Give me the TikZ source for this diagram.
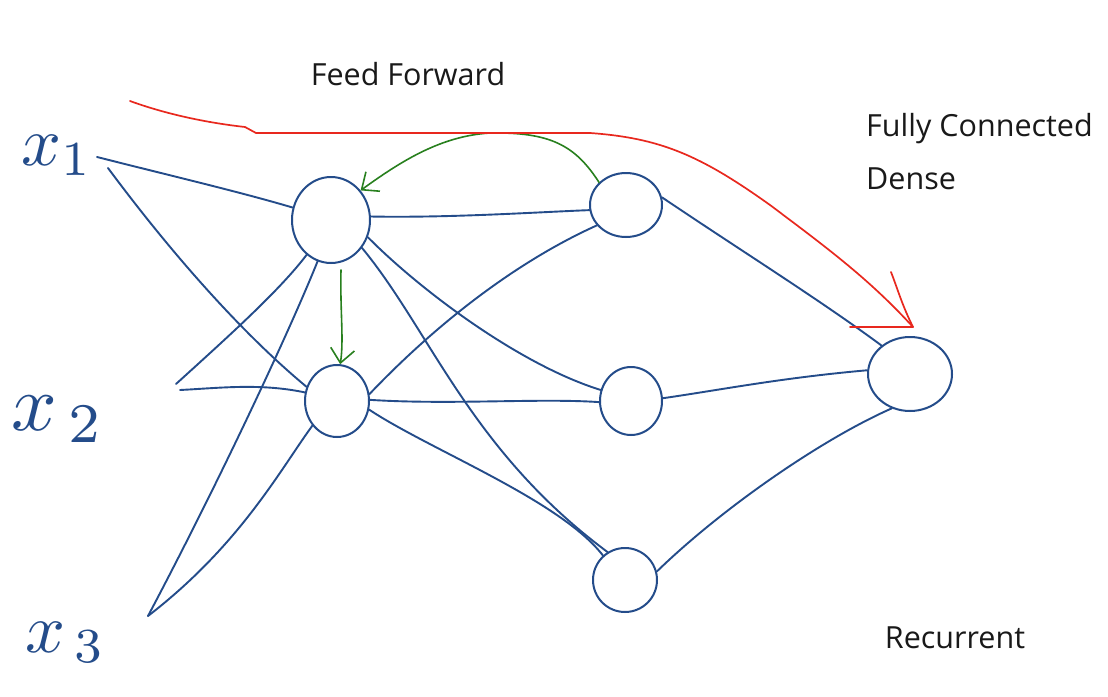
\documentclass[tikz,border=0pt]{standalone}
\usepackage{fontspec}
\setmainfont{Open Sans}
\usetikzlibrary{shapes.geometric,arrows.meta}
\definecolor{nblue}{RGB}{36,76,138}
\definecolor{nred}{RGB}{232,40,30}
\definecolor{ngreen}{RGB}{40,128,30}
\definecolor{ntext}{RGB}{25,25,25}
\begin{document}
\begin{tikzpicture}[x=1pt,y=-1pt,
  neuron/.style={draw=nblue, line width=2pt, ellipse, inner sep=0pt},
  link/.style={draw=nblue, line width=1.9pt, line cap=round},
  redline/.style={draw=nred, line width=1.7pt, line cap=round, line join=round},
  greenarrow/.style={draw=ngreen, line width=1.6pt, line cap=round, -{Straight Barb[length=14pt,width=24pt,line width=1.6pt]}},
  caption/.style={text=ntext, font=\fontsize{30.5}{34}\selectfont, inner sep=0pt},
  inputlabel/.style={text=nblue, scale=7, inner sep=0pt, anchor=base west}]
\useasboundingbox (0,0) rectangle (1108,696);
\fill[white] (0,0) rectangle (1108,696);

% captions
\node[caption] (ff) at (408,74) {Feed Forward};
\node[caption, anchor=west] (fc) at (866,129) {Fully Connected};
\node[caption, anchor=west] (dn) at (866,179) {Dense};
\node[caption] (rc) at (955,638) {Recurrent};

% inputs
\node[inputlabel] (x1) at (20,165) {$x_1$};
\node[inputlabel, scale=8/7] (x2) at (10,430) {$x_{\,2}$};
\node[inputlabel] (x3) at (24,652) {$x_{\,3}$};
\coordinate (p1a) at (97,157);
\coordinate (p1b) at (108,168);
\coordinate (p2a) at (176,384);
\coordinate (p2b) at (180,390);
\coordinate (p3) at (148,616);

% neurons
\node[neuron, minimum width=78pt, minimum height=86pt] (A) at (331,220) {};
\node[neuron, minimum width=64pt, minimum height=72pt] (B) at (337,401) {};
\node[neuron, minimum width=72pt, minimum height=64pt] (C) at (626,205) {};
\node[neuron, minimum width=62pt, minimum height=68pt] (D) at (631,401) {};
\node[neuron, minimum width=64pt, minimum height=64pt] (E) at (625,580) {};
\node[neuron, minimum width=84pt, minimum height=74pt] (F) at (910,374) {};

% input connections
\draw[link] (p1a) .. controls (180,178) and (240,192) .. (A.162);
\draw[link] (p1b) .. controls (180,265) and (250,340) .. (B.155);
\draw[link] (p2a) .. controls (230,335) and (280,290) .. (A.235);
\draw[link] (p2b) .. controls (220,388) and (260,383) .. (B.165);
\draw[link] (p3) .. controls (220,480) and (290,330) .. (A.252);
\draw[link] (p3) .. controls (240,545) and (280,470) .. (B.225);

% hidden 1 -> hidden 2
\draw[link] (A.5) .. controls (450,218) and (540,212) .. (C.188);
\draw[link] (A.335) .. controls (420,290) and (520,365) .. (D.160);
\draw[link] (A.318) .. controls (430,330) and (470,450) .. (E.122);
\draw[link] (B.12) .. controls (440,320) and (520,260) .. (C.215);
\draw[link] (B.2) .. controls (450,405) and (540,398) .. (D.182);
\draw[link] (B.345) .. controls (430,450) and (560,500) .. (E.132);

% hidden 2 -> output
\draw[link] (C.12) .. controls (740,250) and (820,300) .. (F.135);
\draw[link] (D.5) .. controls (720,390) and (780,378) .. (F.175);
\draw[link] (E.15) .. controls (720,510) and (820,440) .. (F.242);

% green arrows
\coordinate (g0) at (341,270);
\draw[greenarrow] (C.140) .. controls (575,145) and (550,132) .. (490,133)
  .. controls (440,136) and (400,162) .. (A.45);
\draw[greenarrow] (g0) .. controls (340,310) and (344,340) .. (B.85);

% red arrow
\coordinate (r0) at (130,101);
\coordinate (rtip) at (913,327);
\coordinate (rbarb) at (891,272);
\coordinate (rend) at (850,327);
\draw[redline] (r0) .. controls (160,112) and (200,122) .. (245,127) -- (256,133) -- (590,133)
  .. controls (660,138) and (700,155) .. (770,205)
  .. controls (830,250) and (870,280) .. (rtip);
\draw[redline] (rbarb) .. controls (898,290) and (902,305) .. (rtip) -- (rend);
\end{tikzpicture}
\end{document}
